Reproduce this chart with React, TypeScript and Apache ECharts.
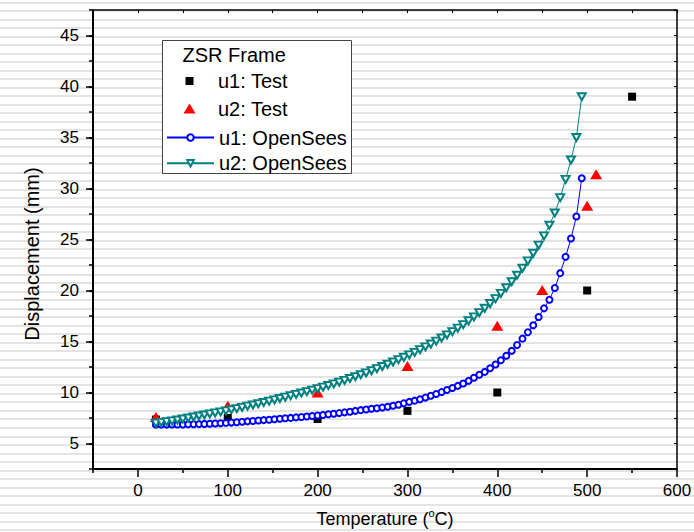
import React, { useEffect, useRef } from "react";
import * as echarts from "echarts";

// ---- data ----
const OS_TEMPS = [
  20, 26, 32, 38, 44, 50, 56, 62, 68, 74,
  80, 86, 92, 98, 104, 110, 116, 122, 128, 134,
  140, 146, 152, 158, 164, 170, 176, 182, 188, 194,
  200, 206, 212, 218, 224, 230, 236, 242, 248, 254,
  260, 266, 272, 278, 284, 290, 296, 302, 308, 314,
  320, 326, 332, 338, 344, 350, 356, 362, 368, 374,
  380, 386, 392, 398, 404, 410, 416, 422, 428, 434,
  440, 446, 452, 458, 464, 470, 476, 482, 488, 494,
];
const U1_OPENSEES = [
  6.85, 6.85, 6.85, 6.86, 6.86, 6.87, 6.88, 6.89, 6.9, 6.92,
  6.94, 6.96, 6.99, 7.02, 7.05, 7.09, 7.13, 7.17, 7.21, 7.25,
  7.29, 7.33, 7.37, 7.42, 7.47, 7.51, 7.56, 7.6, 7.65, 7.7,
  7.75, 7.8, 7.86, 7.92, 7.98, 8.05, 8.12, 8.2, 8.27, 8.33,
  8.4, 8.46, 8.52, 8.6, 8.7, 8.8, 8.94, 9.08, 9.2, 9.34,
  9.5, 9.68, 9.85, 10.04, 10.24, 10.44, 10.65, 10.88, 11.14, 11.45,
  11.74, 12.02, 12.38, 12.74, 13.16, 13.6, 14.08, 14.66, 15.28, 15.9,
  16.6, 17.4, 18.25, 19.1, 20.25, 21.7, 23.3, 25.1, 27.25, 31.0,
];
const U2_OPENSEES = [
  7.0, 7.07, 7.14, 7.22, 7.3, 7.4, 7.5, 7.6, 7.7, 7.8,
  7.9, 8.0, 8.1, 8.2, 8.31, 8.42, 8.54, 8.66, 8.78, 8.9,
  9.02, 9.15, 9.28, 9.41, 9.55, 9.68, 9.81, 9.95, 10.09, 10.23,
  10.38, 10.53, 10.69, 10.85, 11.02, 11.19, 11.37, 11.55, 11.74, 11.93,
  12.13, 12.34, 12.55, 12.77, 12.99, 13.22, 13.45, 13.69, 13.94, 14.2,
  14.47, 14.75, 15.04, 15.34, 15.65, 15.97, 16.31, 16.66, 17.03, 17.42,
  17.83, 18.26, 18.72, 19.2, 19.72, 20.27, 20.86, 21.5, 22.18, 22.9,
  23.65, 24.45, 25.35, 26.4, 27.6, 29.1, 30.9, 32.8, 35.0, 39.0,
];
const U1_TEST_TEMPS = [20, 100, 200, 300, 400, 500, 550];
const U1_TEST = [7.35, 7.5, 7.4, 8.2, 10.0, 20.0, 39.0];
const U2_TEST_TEMPS = [20, 100, 200, 300, 400, 450, 500, 510];
const U2_TEST = [7.6, 8.7, 10.0, 12.6, 16.55, 20.05, 28.3, 31.4];

const X_LABELS = [0, 100, 200, 300, 400, 500, 600];
const X_MINOR = [-50, 50, 150, 250, 350, 450, 550];
const Y_LABELS = [5, 10, 15, 20, 25, 30, 35, 40, 45];

const LEGEND_TITLE = "ZSR Frame";
const NAMES = ["u1: Test", "u2: Test", "u1: OpenSees", "u2: OpenSees"];

const FONT = "'Liberation Sans', Arial, sans-serif";

const zip = (xs: number[], ys: number[]) => xs.map((x, i) => [x, ys[i]]);

export default function App() {
  const ref = useRef<HTMLDivElement>(null);

  useEffect(() => {
    document.body.style.margin = "0";
    const chart = echarts.init(ref.current!, null, { renderer: "svg" });
    const black = "#000";
    const legendText = { fontSize: 20, color: black, fontFamily: FONT };

    const option: any = {
      animation: false,
      backgroundColor: "transparent",
      grid: { left: 93, right: 17, top: 10, bottom: 63, containLabel: false, outerBoundsMode: "none" },
      xAxis: [
        {
          type: "value",
          min: -50,
          max: 600,
          position: "bottom",
          name: "Temperature ({sup|o}C)",
          nameLocation: "middle",
          nameGap: 38,
          nameTextStyle: {
            fontSize: 18,
            lineHeight: 24,
            color: black,
            fontFamily: FONT,
            rich: { sup: { fontSize: 11, lineHeight: 11, verticalAlign: "top", color: black, fontFamily: FONT } },
          },
          axisLine: { show: true, onZero: false, lineStyle: { color: black, width: 2 } },
          axisTick: { show: true, inside: false, length: 8, customValues: X_LABELS, lineStyle: { color: black, width: 1.5 } },
          axisLabel: { show: true, customValues: X_LABELS, margin: 13, fontSize: 17, color: black, fontFamily: FONT },
          splitLine: { show: false },
        },
        {
          type: "value",
          min: -50,
          max: 600,
          position: "bottom",
          axisLine: { show: false, onZero: false },
          axisTick: { show: true, inside: false, length: 4, customValues: X_MINOR, lineStyle: { color: black, width: 1.5 } },
          axisLabel: { show: false },
          splitLine: { show: false },
        },
        {
          type: "value",
          min: -50,
          max: 600,
          interval: 50,
          position: "top",
          axisLine: { show: true, onZero: false, lineStyle: { color: black, width: 1.5 } },
          axisTick: { show: true, inside: true, length: 3, lineStyle: { color: black, width: 1 } },
          axisLabel: { show: false },
          splitLine: { show: false },
        },
      ],
      yAxis: [
        {
          type: "value",
          min: 2.5,
          max: 47.5,
          position: "left",
          axisLine: { show: true, onZero: false, lineStyle: { color: black, width: 2 } },
          axisTick: { show: true, inside: false, length: 7, customValues: Y_LABELS, lineStyle: { color: black, width: 1.5 } },
          axisLabel: { show: true, customValues: Y_LABELS, margin: 14, fontSize: 17, color: black, fontFamily: FONT },
          splitLine: { show: false },
        },
        {
          type: "value",
          min: 2.5,
          max: 47.5,
          interval: 2.5,
          position: "left",
          axisLine: { show: false, onZero: false },
          axisTick: { show: true, inside: false, length: 4, lineStyle: { color: black, width: 1.5 } },
          axisLabel: { show: false },
          splitLine: { show: false },
        },
        {
          type: "value",
          min: 2.5,
          max: 47.5,
          interval: 2.5,
          position: "right",
          axisLine: { show: true, onZero: false, lineStyle: { color: black, width: 1.5 } },
          axisTick: { show: true, inside: true, length: 3, lineStyle: { color: black, width: 1 } },
          axisLabel: { show: false },
          splitLine: { show: false },
        },
      ],
      legend: [
        {
          data: [{ name: NAMES[0], icon: "path://M0,0L0,0M47,8L47,8M19.5,0H27.5V8H19.5Z" }],
          orient: "vertical",
          left: 166,
          top: 71,
          padding: 0,
          itemWidth: 47,
          itemHeight: 8,
          selectedMode: false,
          textStyle: legendText,
        },
        {
          data: [{ name: NAMES[1], icon: "path://M0,0L0,0M47,10L47,10M23.5,0L29.5,10L17.5,10Z" }],
          orient: "vertical",
          left: 166,
          top: 98.5,
          padding: 0,
          itemWidth: 47,
          itemHeight: 10,
          selectedMode: false,
          textStyle: legendText,
        },
        {
          data: [NAMES[2], NAMES[3]],
          orient: "vertical",
          left: 166,
          top: 127.5,
          padding: 0,
          itemWidth: 47,
          itemHeight: 8,
          itemGap: 5.8,
          selectedMode: false,
          textStyle: legendText,
        },
      ],
      graphic: [
        {
          type: "rect",
          z: 1,
          shape: { x: 162.5, y: 40.5, width: 189, height: 133 },
          style: { fill: "#fff", stroke: "#444", lineWidth: 1 },
        },
        {
          type: "text",
          z: 2,
          x: 182.5,
          y: 55,
          style: { text: LEGEND_TITLE, fontSize: 20, fill: black, fontFamily: FONT, verticalAlign: "middle" },
        },
        {
          type: "text",
          z: 2,
          x: 32,
          y: 254,
          rotation: Math.PI / 2,
          style: { text: "Displacement (mm)", fontSize: 20, fill: black, fontFamily: FONT, align: "center", verticalAlign: "middle" },
        },
      ],
      series: [
        {
          name: NAMES[0],
          type: "scatter",
          data: zip(U1_TEST_TEMPS, U1_TEST),
          symbol: "rect",
          symbolSize: 8,
          itemStyle: { color: "#000", opacity: 1 },
        },
        {
          name: NAMES[1],
          type: "scatter",
          data: zip(U2_TEST_TEMPS, U2_TEST),
          symbol: "triangle",
          symbolSize: [12, 10],
          itemStyle: { color: "#ff0000", opacity: 1 },
        },
        {
          name: NAMES[2],
          type: "line",
          data: zip(OS_TEMPS, U1_OPENSEES),
          symbol: "emptyCircle",
          symbolSize: 6,
          showAllSymbol: true,
          lineStyle: { color: "#0000ff", width: 1 },
          itemStyle: { color: "#0000ff", borderColor: "#0000ff", borderWidth: 1 },
        },
        {
          name: NAMES[3],
          type: "line",
          data: zip(OS_TEMPS, U2_OPENSEES),
          symbol: "emptyTriangle",
          symbolRotate: 180,
          symbolSize: [8, 7],
          showAllSymbol: true,
          lineStyle: { color: "#008080", width: 1 },
          itemStyle: { color: "#008080", borderColor: "#008080", borderWidth: 1 },
        },
      ],
    };

    chart.setOption(option);
    return () => chart.dispose();
  }, []);

  return (
    <div
      ref={ref}
      style={{
        position: "absolute",
        left: 0,
        top: 0,
        width: 694,
        height: 532,
        background:
          "repeating-linear-gradient(180deg, #ffffff 0px, #ffffff 1.7px, #e3e3e3 1.7px, #e3e3e3 3.7px, #ffffff 3.7px, #ffffff 8.506px)",
      }}
    />
  );
}
